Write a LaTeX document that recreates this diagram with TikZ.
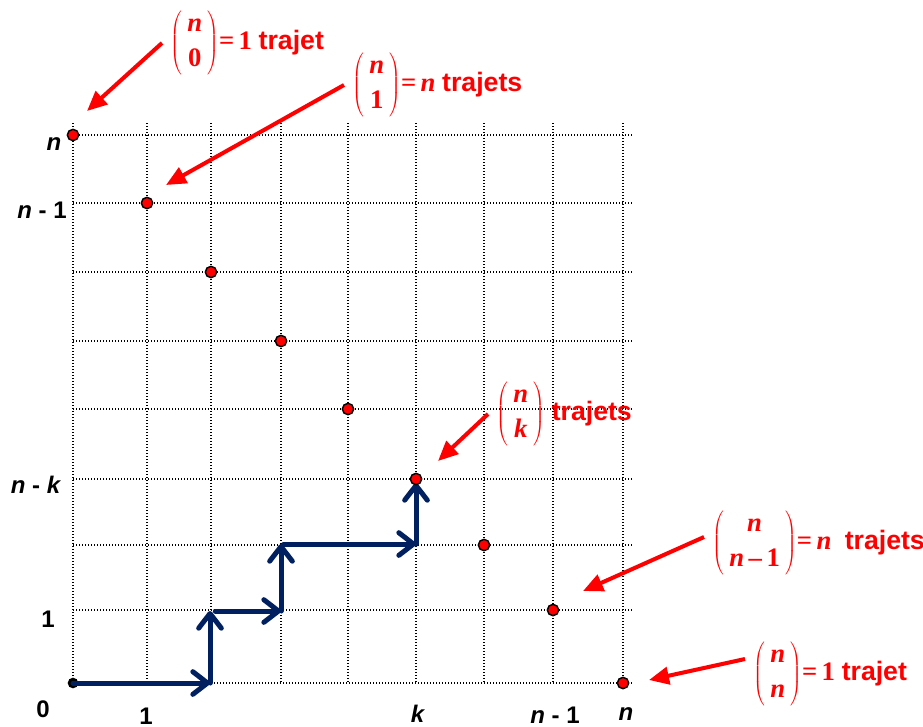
\documentclass[tikz,border=0pt]{standalone}
\usepackage{fontspec}
\setmainfont{Liberation Serif}
\setsansfont{Liberation Sans}
\usetikzlibrary{positioning,arrows.meta}
\definecolor{navy}{RGB}{0,32,96}
\newcommand{\nb}{\textbf{\textit{n}}}
\newcommand{\bico}[2]{$\left(\begin{array}{@{\hspace{4pt}}c@{\hspace{4pt}}}#1\\[3pt]#2\end{array}\right)$}

\begin{document}
\begin{tikzpicture}[x=0.75pt,y=-0.75pt,
  gridline/.style={black,line width=0.8pt,dash pattern=on 0.8pt off 1.45pt},
  walk/.style={navy,line width=3.75pt,line cap=round,-{Straight Barb[length=11pt,width=17pt,round]}},
  dot/.style={circle,draw=black,fill=red,line width=1.1pt,inner sep=0pt,minimum size=8.5pt},
  axis/.style={font=\fontsize{18}{21}\selectfont\sffamily\bfseries,inner sep=0pt,anchor=base},
  note/.style={text=red,font=\fontsize{20}{23}\selectfont\bfseries,inner sep=6pt,anchor=west},
  redarr/.style={red,line width=3pt,-{Triangle[length=15pt,width=13pt]}}]
  \useasboundingbox (0,0) rectangle (923,726);
  % grid
  \foreach \gx in {73,147,211,281,348,416,484,553,623}
    \draw[gridline] (\gx,123) -- (\gx,683);
  \foreach \gy in {135,203,272,341,409,479,545,610,683}
    \draw[gridline] (73,\gy) -- (633,\gy);
  % path from 0
  \coordinate (q1) at (210,683);
  \coordinate (q2) at (210,611);
  \coordinate (q3) at (281,611);
  \coordinate (q4) at (281,544);
  \coordinate (q5) at (416,544);
  \coordinate (q6) at (416,483);
  \node[circle,fill=black,inner sep=0pt,minimum size=8pt] (orig) at (73,683) {};
  \draw[walk] (orig.center) -- (q1);
  \draw[walk] (q1) -- (q2);
  \draw[walk] ([xshift=4]q2) -- (q3);
  \draw[walk] (q3) -- (q4);
  \draw[walk] ([xshift=2]q4) -- (q5);
  \draw[walk] (q5) -- (q6);
  % end points
  \foreach \gx/\gy [count=\i from 0] in {73/135,147/203,211/272,281/341,348/409,416/479,484/545,553/610,623/683}
    \node[dot] (d\i) at (\gx,\gy) {};
  % axis labels
  \node[axis] (yn) at (54,150) {\textit{n}};
  \node[axis] (yn1) at (42,218) {\textit{n} - 1};
  \node[axis] (ynk) at (36,493) {\textit{n} - \textit{k}};
  \node[axis] (y1) at (48,627) {1};
  \node[axis] (y0) at (43,717) {0};
  \node[axis] (x1) at (146,724) {1};
  \node[axis] (xk) at (418,722) {\textit{k}};
  \node[axis] (xn1) at (555,723) {\textit{n} - 1};
  \node[axis] (xn) at (626,720) {\textit{n}};
  % counts
  \node[note] (ann0) at (162,43) {\bico{\nb}{\textbf{0}}\textbf{=}\,\textbf{1} \textsf{trajet}};
  \node[note] (ann1) at (344,85) {\bico{\nb}{\textbf{1}}\textbf{=}\,\nb{} \textsf{trajets}};
  \node[note] (ann2) at (488,414) {\bico{\nb}{\textbf{\textit{k}}} \textsf{trajets}};
  \node[note] (ann3) at (704,543) {\bico{\nb}{\nb\,\textbf{--}\,\textbf{1}}\textbf{=}\,\nb{}\ \ \textsf{trajets}};
  \node[note] (ann4) at (745,674) {\bico{\nb}{\nb}\textbf{=}\,\textbf{1} \textsf{trajet}};
  \coordinate (t0) at (87,111);
  \coordinate (t1) at (166,185);
  \coordinate (t2) at (438,461);
  \coordinate (t3) at (583,591);
  \coordinate (t4) at (649,680);
  \draw[redarr] (ann0.west) -- (t0);
  \draw[redarr] (ann1.west) -- (t1);
  \draw[redarr] (ann2.west) -- (t2);
  \draw[redarr] (ann3.177) -- (t3);
  \draw[redarr] (ann4.170) -- (t4);
\end{tikzpicture}
\end{document}
